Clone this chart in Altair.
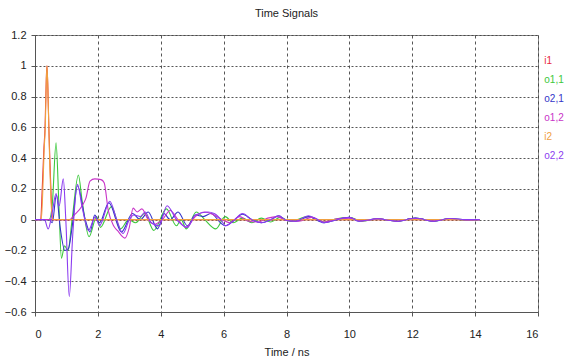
import altair as alt
import pandas as pd

# ---- data ----
names = ["i1", "o1,1", "o2,1", "o1,2", "i2", "o2,2"]
colors = ["#e8283c", "#3cc83c", "#3434c8", "#c833c8", "#f0a040", "#8c3cf0"]

i1_t = [0, 0.18, 0.23, 0.28, 0.32, 0.36, 0.38, 0.41, 0.44, 0.48, 0.52, 0.57, 14.15]
i1_v = [0, 0, 0.2, 0.45, 0.6, 0.92, 1.0, 0.85, 0.6, 0.35, 0.12, 0.0, 0]

o11_t = [0, 0.45, 0.55, 0.67, 0.76, 0.84, 0.94, 1.05, 1.18, 1.38, 1.5, 1.72, 1.96, 2.08,
         2.43, 2.72, 2.98, 3.2, 3.49, 3.78, 4.18, 4.5, 4.65, 4.81, 5.13, 5.4, 5.75, 6.05,
         6.3, 6.6, 6.9, 7.2, 7.5, 7.8, 8.1, 8.7, 9.2, 9.6, 10.0, 10.4, 10.9, 11.5, 12.1,
         12.7, 13.2, 13.7, 14.15]
o11_v = [0, 0, 0.1, 0.5, 0.1, -0.25, -0.17, -0.2, 0.0, 0.29, 0.12, -0.11, 0.02, -0.05,
         0.085, -0.06, 0.0, -0.02, 0.04, -0.07, 0.07, -0.04, 0.0, -0.06, 0.05, 0.0, -0.06, 0.02,
         -0.02, 0.01, -0.02, 0.01, -0.015, 0.015, -0.01, 0.02, -0.015, 0.005, 0.015, -0.01,
         0.005, -0.01, 0.01, -0.01, 0.008, -0.005, 0]

o21_t = [0, 0.45, 0.55, 0.68, 0.8, 0.95, 1.06, 1.18, 1.35, 1.6, 1.75, 1.9, 2.05, 2.35,
         2.75, 3.1, 3.35, 3.6, 3.9, 4.1, 4.3, 4.55, 4.85, 5.1, 5.35, 5.6, 5.9, 6.05, 6.3,
         6.6, 6.9, 7.2, 7.5, 7.75, 8.0, 8.3, 8.7, 9.2, 9.6, 10.0, 10.3, 10.9, 11.5, 12.1,
         12.7, 13.2, 13.7, 14.15]
o21_v = [0, 0, -0.02, 0.16, -0.05, -0.2, -0.19, -0.05, 0.22, 0.0, -0.08, 0.03, -0.02, 0.11,
         -0.08, 0.04, 0.0, 0.05, -0.06, 0.04, 0.0, 0.05, -0.04, 0.03, 0.02, 0.04, -0.02, -0.04,
         -0.01, 0.035, 0.0, -0.02, 0.0, 0.025, -0.005, -0.01, 0.02, -0.02, 0.0, 0.015, -0.01,
         0.005, -0.01, 0.01, -0.01, 0.008, 0.0, 0]

o12_t = [0, 1.1, 1.25, 1.5, 1.62, 1.75, 1.9, 2.1, 2.2, 2.33, 2.5, 2.62, 2.86, 3.0, 3.12,
         3.25, 3.4, 3.6, 3.8, 4.05, 4.3, 4.55, 4.8, 5.1, 5.4, 5.7, 5.95, 6.2, 6.5, 6.8, 7.1,
         7.4, 7.7, 8.0, 8.4, 8.8, 9.2, 9.6, 10.0, 10.4, 10.9, 11.5, 12.1, 12.7, 13.2, 13.7, 14.15]
o12_v = [0, 0, 0.03, 0.09, 0.14, 0.25, 0.265, 0.26, 0.24, 0.06, -0.04, -0.07, -0.12, -0.05,
         0.075, 0.05, 0.07, 0.0, -0.03, 0.0, 0.06, 0.0, -0.05, 0.02, 0.05, 0.03, 0.0, -0.02,
         0.02, -0.01, -0.015, 0.01, 0.02, -0.005, -0.01, 0.015, -0.015, 0.005, 0.01, -0.008,
         0.005, -0.01, 0.008, -0.008, 0.006, -0.004, 0]

i2_t = [0, 0.2, 0.25, 0.29, 0.33, 0.36, 0.38, 0.41, 0.44, 0.47, 0.51, 0.56, 14.15]
i2_v = [0, 0, 0.2, 0.45, 0.62, 0.9, 1.0, 0.85, 0.6, 0.35, 0.12, 0.0, 0]

o22_t = [0, 0.3, 0.42, 0.55, 0.67, 0.77, 0.9, 0.98, 1.09, 1.2, 1.35, 1.5, 1.7, 1.92, 2.05,
         2.38, 2.6, 2.8, 3.0, 3.15, 3.35, 3.5, 3.7, 3.95, 4.2, 4.5, 4.85, 5.1, 5.5, 5.7, 5.95,
         6.05, 6.3, 6.6, 6.9, 7.2, 7.5, 7.75, 8.0, 8.3, 8.7, 9.0, 9.2, 9.6, 10.0, 10.3, 10.9,
         11.5, 12.1, 12.7, 13.2, 13.7, 14.15]
o22_v = [0, 0, -0.06, 0.05, 0.17, 0.09, 0.265, 0.0, -0.5, -0.1, 0.23, 0.08, -0.07, 0.02, -0.04,
         0.12, 0.0, -0.09, 0.0, 0.03, 0.02, 0.05, -0.02, -0.04, 0.09, 0.0, -0.05, 0.03, 0.05, 0.04,
         -0.01, -0.04, -0.01, 0.04, 0.0, -0.02, 0.0, 0.025, -0.005, -0.01, 0.025, 0.0, -0.02, 0.0,
         0.015, -0.01, 0.005, -0.01, 0.01, -0.01, 0.008, 0.0, 0]

series = [(i1_t, i1_v), (o11_t, o11_v), (o21_t, o21_v), (o12_t, o12_v), (i2_t, i2_v), (o22_t, o22_v)]

x_ticks = [0, 2, 4, 6, 8, 10, 12, 14, 16]
y_ticks = [-0.6, -0.4, -0.2, 0, 0.2, 0.4, 0.6, 0.8, 1.0, 1.2]
legend_t = 16.2   # legend column position, in ns on the time axis

FONT = "Liberation Sans"
FS = 11

x_scale = alt.Scale(domain=[0, 16], nice=False, zero=False)
x_enc = alt.X("t:Q", scale=x_scale,
              axis=alt.Axis(values=x_ticks, title="Time / ns", gridDash=[3, 3],
                            labelPadding=12, titlePadding=7))
y_enc = alt.Y("v:Q", scale=alt.Scale(domain=[-0.6, 1.2], nice=False),
              axis=alt.Axis(values=y_ticks, title=None, format=".1~f", gridDash=[2, 2],
                            labelPadding=5))

layers = []
for (ts, vs), name, col in zip(series, names, colors):
    df = pd.DataFrame({"t": ts, "v": vs, "name": name})
    layers.append(
        alt.Chart(df).mark_line(color=col, strokeWidth=1.1, interpolate="monotone",
                                clip=True).encode(x=x_enc, y=y_enc)
    )
lines = alt.layer(*layers)

leg_df = pd.DataFrame({"name": names})
legend = alt.Chart(leg_df).mark_text(align="left", baseline="middle", fontSize=10,
                                     font=FONT).encode(
    x=alt.XDatum(legend_t, type="quantitative", scale=x_scale),
    y=alt.Y("name:N", sort=names, axis=None,
            scale=alt.Scale(type="point", range=[16, 131])),
    text="name:N",
    color=alt.Color("name:N", scale=alt.Scale(domain=names, range=colors), legend=None),
)

chart = alt.layer(lines, legend).resolve_scale(y="independent").properties(
    width=503, height=277,
    title=alt.TitleParams("Time Signals", fontSize=FS, font=FONT, fontWeight="normal",
                          color="#222", offset=10),
    autosize=alt.AutoSizeParams(type="none"),
    padding={"left": 35, "top": 35, "right": 28, "bottom": 48},
).configure_axis(
    labelFont=FONT, titleFont=FONT, labelFontSize=FS, titleFontSize=FS,
    titleFontWeight="normal", labelColor="#222", titleColor="#222",
    domainColor="#555", tickColor="#555", tickSize=4, gridColor="#444",
    gridOpacity=0.9, gridWidth=1,
).configure_view(stroke="#888", strokeWidth=1)

chart.save("out.html", embed_options={"renderer": "svg", "actions": False})
